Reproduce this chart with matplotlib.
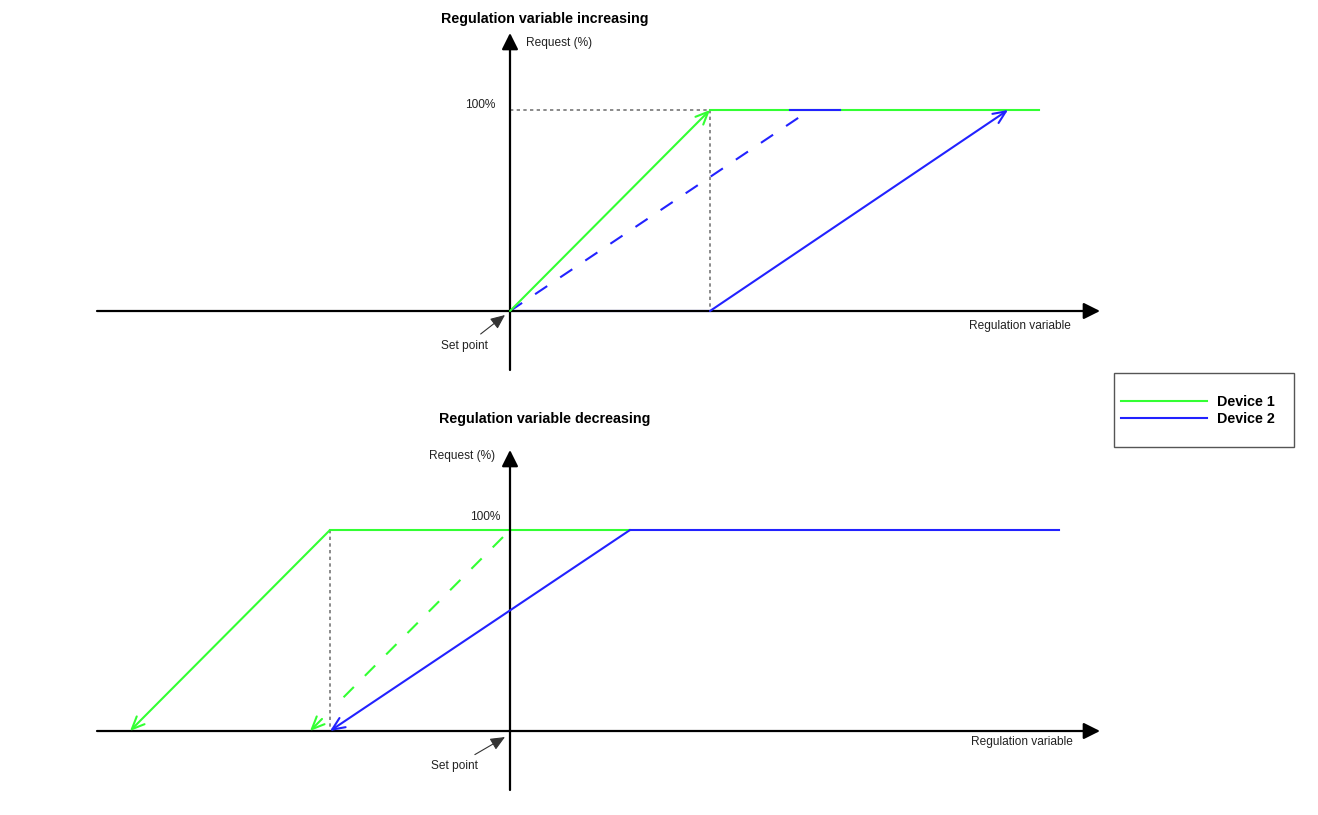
import matplotlib.pyplot as plt
from matplotlib.patches import Rectangle
from matplotlib.lines import Line2D

plt.rcParams["font.family"] = ["Liberation Sans", "DejaVu Sans"]

GREEN = "#33ff33"
BLUE = "#2222ff"
GRAY = "#777777"

# x in "regulation variable" units, y in request %
# top panel: regulation variable increasing
up_dev1_x = [0, 1.0, 2.645]
up_dev1_y = [0, 100, 100]
up_dev2_x = [0, 1.0, 2.49]
up_dev2_y = [0, 0, 100]
up_dev2_alt_x = [0, 1.5]
up_dev2_alt_y = [0, 100]
up_dev2_flat_x = [1.4, 1.65]
up_dev2_flat_y = [100, 100]
up_guide_x = [0, 1.0, 1.0]
up_guide_y = [100, 100, 0]

# bottom panel: regulation variable decreasing
down_dev1_x = [-1.9, -0.9, 0.6]
down_dev1_y = [0, 100, 100]
down_dev2_x = [-0.9, 0.6, 2.745]
down_dev2_y = [0, 100, 100]
down_dev1_alt_x = [-0.035, -1.0]
down_dev1_alt_y = [96.5, 0]
down_guide_x = [-0.9, -0.9]
down_guide_y = [100, 0]

W, H = 1318, 815
fig = plt.figure(figsize=(W / 100, H / 100), dpi=100)

LW = 1.5
DASH = (0, (7, 7.5))
TXT = "#222222"
SMALL = 8.6
BOLD = 10.3


def px_axes(x0, x1, ytop, ybot):
    return fig.add_axes([x0 / W, 1 - ybot / H, (x1 - x0) / W, (ybot - ytop) / H])


def arrow(ax, start, end, color):
    ax.annotate("", xy=end, xytext=start,
                arrowprops=dict(arrowstyle="->,head_length=0.5,head_width=0.22",
                                color=color, lw=LW, shrinkA=0, shrinkB=0,
                                mutation_scale=18))


def draw_axes(ax, xlim, ylim):
    ax.set_xlim(*xlim)
    ax.set_ylim(*ylim)
    ax.axis("off")
    style = "-|>,head_length=0.9,head_width=0.45"
    ax.annotate("", xy=(xlim[1], 0), xytext=(xlim[0], 0),
                arrowprops=dict(arrowstyle=style, color="black", lw=1.6,
                                shrinkA=0, shrinkB=0, mutation_scale=11))
    ax.annotate("", xy=(0, ylim[1]), xytext=(0, ylim[0]),
                arrowprops=dict(arrowstyle=style, color="black", lw=1.6,
                                shrinkA=0, shrinkB=0, mutation_scale=11))


def set_point(ax, tip, text_xy):
    ax.annotate("Set point", xy=tip, xytext=text_xy,
                fontsize=SMALL, color=TXT, ha="center", va="center",
                arrowprops=dict(arrowstyle="-|>,head_length=0.8,head_width=0.35",
                                color="#333333", lw=0.8, shrinkA=4, shrinkB=0,
                                mutation_scale=11))


# ---- top panel ----
ax1 = px_axes(97, 1100, 33, 370)
draw_axes(ax1, (-2.065, 2.95), (-29.35, 138.3))
ax1.plot(up_guide_x, up_guide_y, color=GRAY, lw=1.2, ls=(0, (2, 2)))
ax1.plot(up_dev1_x[1:], up_dev1_y[1:], color=GREEN, lw=LW)
arrow(ax1, (up_dev1_x[0], up_dev1_y[0]), (up_dev1_x[1], up_dev1_y[1]), GREEN)
ax1.plot(up_dev2_alt_x, up_dev2_alt_y, color=BLUE, lw=LW, ls=DASH)
ax1.plot(up_dev2_flat_x, up_dev2_flat_y, color=BLUE, lw=LW)
ax1.plot(up_dev2_x[:2], up_dev2_y[:2], color=BLUE, lw=LW)
arrow(ax1, (up_dev2_x[1], up_dev2_y[1]), (up_dev2_x[2], up_dev2_y[2]), BLUE)

ax1.text(0.175, 145.3, "Regulation variable increasing", fontsize=BOLD,
         fontweight="bold", ha="center", va="center")
ax1.text(0.08, 133.5, "Request (%)", fontsize=SMALL, color=TXT, va="center")
ax1.text(-0.075, 102.5, "100%", fontsize=SMALL, color=TXT, ha="right", va="center")
ax1.text(2.55, -7.5, "Regulation variable", fontsize=SMALL, color=TXT,
         ha="center", va="center")
set_point(ax1, (-0.025, -2), (-0.225, -17.5))

# ---- bottom panel ----
ax2 = px_axes(97, 1100, 450, 790)
draw_axes(ax2, (-2.065, 2.95), (-29.35, 139.8))
ax2.plot(down_guide_x, down_guide_y, color=GRAY, lw=1.2, ls=(0, (2, 2)))
ax2.plot(down_dev1_x[1:], down_dev1_y[1:], color=GREEN, lw=LW)
arrow(ax2, (down_dev1_x[1], down_dev1_y[1]), (down_dev1_x[0], down_dev1_y[0]), GREEN)
ax2.plot(down_dev1_alt_x[0:1] + [-0.88], down_dev1_alt_y[0:1] + [12], color=GREEN,
         lw=LW, ls=DASH)
arrow(ax2, (-0.94, 6), (down_dev1_alt_x[1], down_dev1_alt_y[1]), GREEN)
ax2.plot(down_dev2_x[1:], down_dev2_y[1:], color=BLUE, lw=LW)
arrow(ax2, (down_dev2_x[1], down_dev2_y[1]), (down_dev2_x[0], down_dev2_y[0]), BLUE)

ax2.text(0.175, 155.2, "Regulation variable decreasing", fontsize=BOLD,
         fontweight="bold", ha="center", va="center")
ax2.text(-0.24, 136.8, "Request (%)", fontsize=SMALL, color=TXT,
         ha="center", va="center")
ax2.text(-0.05, 106.5, "100%", fontsize=SMALL, color=TXT, ha="right", va="center")
ax2.text(2.56, -5.5, "Regulation variable", fontsize=SMALL, color=TXT,
         ha="center", va="center")
set_point(ax2, (-0.025, -3), (-0.275, -17.5))

# ---- legend ----
fig.patches.append(Rectangle((1114 / W, 1 - 447 / H), 180 / W, 74 / H,
                             transform=fig.transFigure, fill=False,
                             edgecolor="#555555", lw=1.0))
handles = [Line2D([], [], color=GREEN, lw=LW), Line2D([], [], color=BLUE, lw=LW)]
fig.legend(handles, ["Device 1", "Device 2"], loc="upper left",
           bbox_to_anchor=(1121 / W, 1 - 395 / H), frameon=False,
           borderpad=0, borderaxespad=0, handlelength=6.0, handletextpad=0.7,
           labelspacing=0.22, prop=dict(size=BOLD, weight="bold"))

fig.savefig("out.png", dpi=100)
